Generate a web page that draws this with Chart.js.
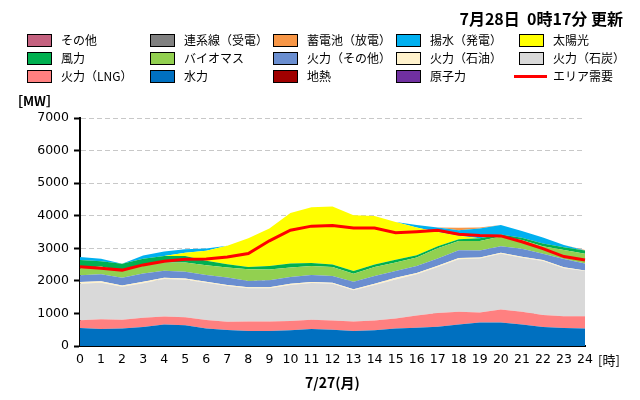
<!DOCTYPE html>
<html>
<head>
<meta charset="utf-8">
<script src="https://cdn.jsdelivr.net/npm/chart.js@4"></script>
<style>
body { margin: 0; background: #fff; }
#wrap { position: relative; width: 640px; height: 400px; overflow: hidden; }
#c { position: absolute; left: 0; top: 0; }
#title { position: absolute; right: 17px; top: 6px; font: bold 16px "Noto Sans CJK JP"; color: #000; white-space: pre; }
.lg { position: absolute; font: 12px "Noto Sans CJK JP"; color: #000; white-space: nowrap; height: 14px; line-height: 14px; }
.lg .sw { position: absolute; left: 0; top: 1px; width: 25px; height: 13px; border: 1px solid #000; box-sizing: border-box; }
.lg .ln { position: absolute; left: -5px; top: 6px; width: 33px; height: 3px; }
.lg span { position: absolute; left: 34px; top: 0; }
</style>
</head>
<body>
<div id="wrap">
  <canvas id="c" width="640" height="400"></canvas>
  <div id="title">7月28日  0時17分 更新</div>
  <div id="legend"></div>
</div>
<script>
const hours = ['0','1','2','3','4','5','6','7','8','9','10','11','12','13','14','15','16','17','18','19','20','21','22','23','24'];

const hydro        = [550,520,540,580,660,640,540,490,460,460,480,520,500,460,480,540,560,590,660,720,720,660,580,550,540];
const lng          = [240,300,265,285,245,245,255,255,295,295,285,285,285,295,305,305,380,420,390,310,400,390,370,360,370];
const coal         = [1125,1120,1015,1065,1150,1150,1150,1100,1015,1015,1110,1130,1130,955,1085,1200,1260,1415,1610,1660,1710,1660,1660,1475,1390];
const oil          = [50,50,40,40,40,40,30,30,30,30,40,30,30,30,40,50,40,40,40,30,30,30,30,30,20];
const otherThermal = [205,210,235,255,215,205,205,225,195,215,205,215,205,235,240,205,215,225,240,215,205,245,195,255,215];
const biomass      = [220,240,205,275,250,280,300,310,360,330,290,275,275,245,275,260,260,310,285,290,300,270,230,280,300];
const wind         = [250,160,225,175,205,205,135,100,70,110,120,95,80,80,80,90,70,60,50,80,60,70,80,80,100];
const solar        = [0,0,0,0,0,95,310,565,880,1150,1550,1710,1780,1715,1490,1160,850,440,110,0,0,0,0,0,0];
const pumped       = [95,80,0,105,135,110,70,0,0,0,0,0,0,0,0,0,80,140,165,300,290,205,185,70,0];
const battery      = [0,0,0,0,0,0,0,0,0,0,0,0,0,0,0,0,0,0,80,30,0,0,0,0,10];
const interconnect = [0,0,0,0,0,0,0,0,0,0,0,0,0,0,0,0,0,0,0,0,0,0,0,0,0];
const others       = [0,0,0,0,0,0,0,0,0,0,0,0,0,0,0,0,0,0,0,0,0,0,0,0,0];
const geothermal   = [0,0,0,0,0,0,0,0,0,0,0,0,0,0,0,0,0,0,0,0,0,0,0,0,0];
const nuclear      = [0,0,0,0,0,0,0,0,0,0,0,0,0,0,0,0,0,0,0,0,0,0,0,0,0];
const demand       = [2430,2390,2330,2490,2600,2660,2670,2730,2840,3230,3555,3680,3700,3620,3620,3480,3510,3550,3430,3390,3380,3200,2990,2745,2640];

// legend order (3 rows x 5 columns)
const legendItems = [
  ['その他', '#C4617F'], ['連系線（受電）', '#808080'], ['蓄電池（放電）', '#F79646'], ['揚水（発電）', '#00B0F0'], ['太陽光', '#FFFF00'],
  ['風力', '#00B050'], ['バイオマス', '#92D050'], ['火力（その他）', '#6A8ED0'], ['火力（石油）', '#FFF2CC'], ['火力（石炭）', '#D9D9D9'],
  ['火力（LNG）', '#FF8080'], ['水力', '#0070C0'], ['地熱', '#A00000'], ['原子力', '#7030A0'], ['エリア需要', '#FF0000']
];

function area(label, data, color, fill) {
  return {
    label: label,
    data: data,
    backgroundColor: color,
    borderColor: color,
    borderWidth: 0,
    pointRadius: 0,
    fill: fill,
    stack: 'supply',
    tension: 0
  };
}

const datasets = [
  area('水力', hydro, '#0070C0', 'origin'),
  area('火力（LNG）', lng, '#FF8080', '-1'),
  area('火力（石炭）', coal, '#D9D9D9', '-1'),
  area('火力（石油）', oil, '#FFF2CC', '-1'),
  area('火力（その他）', otherThermal, '#6A8ED0', '-1'),
  area('バイオマス', biomass, '#92D050', '-1'),
  area('風力', wind, '#00B050', '-1'),
  area('太陽光', solar, '#FFFF00', '-1'),
  area('揚水（発電）', pumped, '#00B0F0', '-1'),
  area('蓄電池（放電）', battery, '#F79646', '-1'),
  area('地熱', geothermal, '#A00000', '-1'),
  area('原子力', nuclear, '#7030A0', '-1'),
  area('連系線（受電）', interconnect, '#808080', '-1'),
  area('その他', others, '#C4617F', '-1'),
  {
    label: 'エリア需要',
    data: demand,
    borderColor: '#FF0000',
    borderWidth: 3,
    pointRadius: 0,
    fill: false,
    stack: 'demand',
    order: -1,
    tension: 0
  }
];

// html legend
let lg = document.getElementById('legend');
let colX = [27, 150, 273, 396, 519];
let rowY = [33, 51, 69];
legendItems.forEach(function (it, i) {
  let d = document.createElement('div');
  d.className = 'lg';
  d.style.left = colX[i % 5] + 'px';
  d.style.top = rowY[Math.floor(i / 5)] + 'px';
  if (it[0] === 'エリア需要') {
    d.innerHTML = '<i class="ln" style="background:' + it[1] + '"></i><span>' + it[0] + '</span>';
  } else {
    d.innerHTML = '<i class="sw" style="background:' + it[1] + '"></i><span>' + it[0] + '</span>';
  }
  lg.appendChild(d);
});

const extraText = {
  id: 'extraText',
  afterDraw(chart) {
    let ctx = chart.ctx;
    ctx.save();
    ctx.fillStyle = '#000';
    ctx.textBaseline = 'middle';
    ctx.font = 'bold 13px "Noto Sans CJK JP"';
    ctx.fillText('［MW］', 10, 101);
    ctx.font = '13px "Noto Sans CJK JP"';
    ctx.fillText('[時]', 598, 360);
    ctx.restore();
  }
};

Chart.defaults.font.family = '"DejaVu Sans"';
Chart.defaults.font.size = 12.5;
Chart.defaults.color = '#000';

let ctx = document.getElementById('c').getContext('2d');
let myChart = new Chart(ctx, {
  type: 'line',
  data: {
    labels: hours,
    datasets: datasets
  },
  options: {
    responsive: false,
    animation: false,
    layout: { padding: { top: 118, right: 55, left: 0, bottom: 0 } },
    plugins: {
      legend: { display: false },
      tooltip: { enabled: false }
    },
    scales: {
      x: {
        grid: { display: false, drawTicks: false },
        border: { display: true, color: '#000', width: 2 },
        ticks: { padding: 6, maxRotation: 0, autoSkip: false },
        title: {
          display: true,
          text: '7/27(月)',
          font: { family: '"Noto Sans CJK JP"', size: 14, weight: 'bold' },
          padding: { top: 0, bottom: 9 }
        },
        afterFit: function (scale) { scale.height = 54; }
      },
      y: {
        stacked: true,
        min: 0,
        max: 7000,
        ticks: {
          stepSize: 500,
          padding: 5,
          callback: function (v) { return v % 1000 === 0 ? v : ''; }
        },
        grid: {
          color: function (c) { return c.tick && c.tick.value === 0 ? 'rgba(0,0,0,0)' : '#C8C8C8'; },
          tickColor: '#000',
          tickLength: 6,
          tickWidth: 2
        },
        border: { display: true, color: '#000', width: 2, dash: [5, 3] },
        afterFit: function (scale) { scale.width = 80; }
      }
    }
  },
  plugins: [extraText]
});
</script>
</body>
</html>
